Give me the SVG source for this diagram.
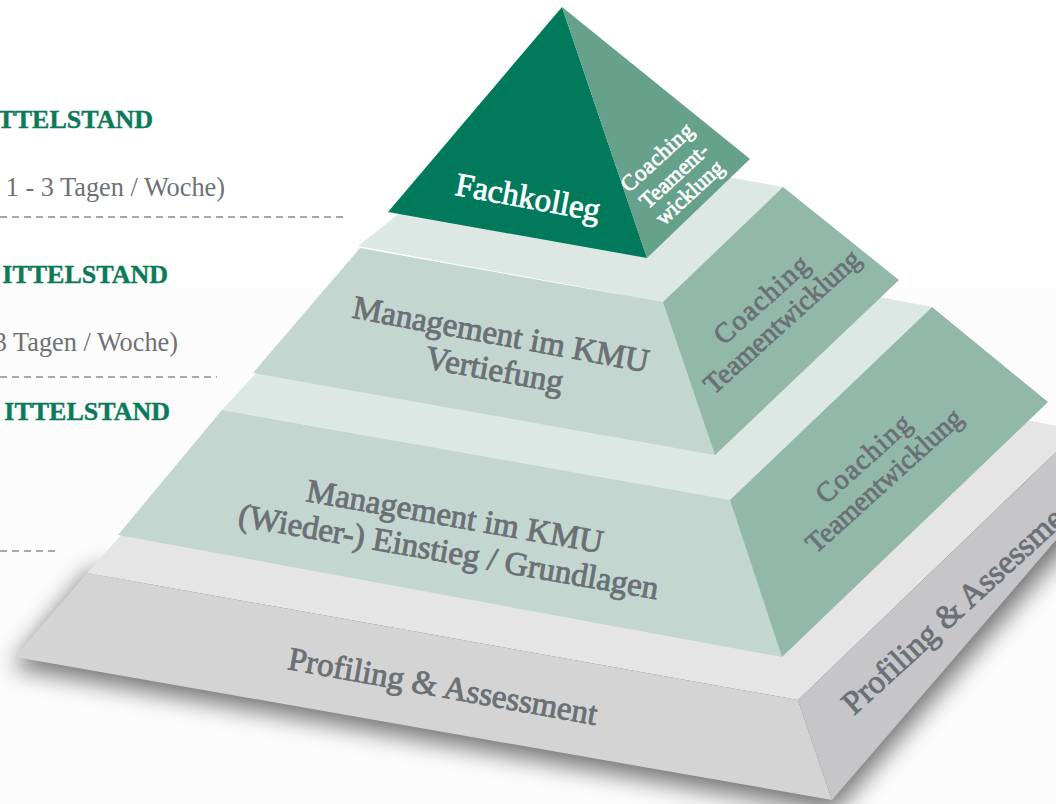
<svg xmlns="http://www.w3.org/2000/svg" width="1056" height="804" viewBox="0 0 1056 804">
  <defs>
    <filter id="shadow" x="-20%" y="-20%" width="140%" height="160%">
      <feGaussianBlur stdDeviation="12"/>
    </filter>
    <style>
      .serif { font-family: "Liberation Serif", "Times New Roman", serif; }
      .head { fill: #0a7a5a; stroke: #0a7a5a; stroke-width: 0.4; font-weight: bold; font-size: 26px; text-anchor: end; }
      .sub { fill: #6d7175; font-size: 26.3px; text-anchor: end; }
      .tier { fill: #6b7075; stroke: #6b7075; stroke-width: 0.9; font-size: 33px; text-anchor: middle; }
      .side { fill: #6b7075; stroke: #6b7075; stroke-width: 0.8; font-size: 28px; text-anchor: middle; }
      .white { fill: #ffffff; stroke: #ffffff; stroke-width: 0.8; text-anchor: middle; }
      .sep { stroke: #8c8c8c; stroke-width: 1.4; stroke-dasharray: 7 5; fill: none; }
      .ledge { fill: #dde7e4; }
      .front { fill: #c3d6cf; }
      .right { fill: #92b8aa; }
    </style>
  </defs>

  <rect x="0" y="0" width="1056" height="804" fill="#ffffff"/>
  <rect x="0" y="288" width="1056" height="516" fill="#fcfcfc"/>

  <!-- left labels -->
  <g id="labels" class="serif">
    <text class="head" x="153" y="128">TTELSTAND</text>
    <text class="sub" x="225" y="196">1 - 3 Tagen / Woche)</text>
    <text class="head" x="168" y="283">ITTELSTAND</text>
    <text class="sub" x="178" y="351">3 Tagen / Woche)</text>
    <text class="head" x="170" y="420">ITTELSTAND</text>
  </g>

  <g id="connectors">
    <line class="sep" x1="0" y1="217" x2="347" y2="217"/>
    <line class="sep" x1="0" y1="377" x2="217" y2="377"/>
    <line class="sep" x1="0" y1="551" x2="56" y2="551"/>
  </g>

  <!-- base tier -->
  <g id="tier-base">
    <polygon points="12,667 834,812 1110,497 1110,445 90,572" fill="#000000" opacity="0.55" filter="url(#shadow)"/>
    <polygon points="87,573 798,700 1079,430 900,396 180,470" fill="#e5e5e5"/>
    <polygon points="87,573 798,700 832,800 15,657" fill="#d4d4d4"/>
    <polygon points="798,700 1100,410 1100,489 832,800" fill="#c6c6c8"/>
    <text class="serif tier" transform="translate(441,697) rotate(10.3)">Profiling &amp; Assessment</text>
    <text class="serif tier" style="text-anchor:start" transform="translate(854,716) rotate(-42.5)">Profiling &amp; Assessment</text>
  </g>

  <!-- tier 3 -->
  <g id="tier-grundlagen">
    <polygon class="ledge" points="222,410 730,500 932,307 790,280 305,320"/>
    <polygon class="front" points="222,410 730,500 782,657 118,535"/>
    <polygon class="right" points="730,500 932,307 1048,402 782,657"/>
    <g class="serif tier" transform="translate(453,527) rotate(10)">
      <text x="0" y="0">Management im KMU</text>
      <text x="0" y="36">(Wieder-) Einstieg / Grundlagen</text>
    </g>
    <g class="serif side" transform="translate(870,465) rotate(-42)">
      <text x="0" y="0" letter-spacing="1.5">Coaching</text>
      <text x="0" y="30">Teamentwicklung</text>
    </g>
  </g>

  <!-- tier 2 -->
  <g id="tier-vertiefung">
    <polygon class="ledge" points="358,246 663,302 783,187 650,163 410,205"/>
    <polygon class="front" points="360,248 663,302 715,455 253,373"/>
    <polygon class="right" points="663,302 783,187 899,280 715,455"/>
    <g class="serif tier" transform="translate(499,345) rotate(10.5)">
      <text x="0" y="0">Management im KMU</text>
      <text x="0" y="36">Vertiefung</text>
    </g>
    <g class="serif side" transform="translate(768,306) rotate(-42)">
      <text x="0" y="0" letter-spacing="1.5">Coaching</text>
      <text x="0" y="30">Teamentwicklung</text>
    </g>
  </g>

  <!-- top -->
  <g id="tier-fachkolleg">
    <polygon points="562,7 388,212 647,258" fill="#007a5a"/>
    <polygon points="562,7 647,258 750,159" fill="#65a18b"/>
    <text class="serif white" font-size="33" transform="translate(526,208) rotate(10.5)">Fachkolleg</text>
    <g class="serif white" font-size="22.5" transform="translate(679,181) rotate(-42.6)">
      <text x="0" y="-25" letter-spacing="0.5">Coaching</text>
      <text x="0" y="0">Teament-</text>
      <text x="0" y="23">wicklung</text>
    </g>
  </g>
</svg>
